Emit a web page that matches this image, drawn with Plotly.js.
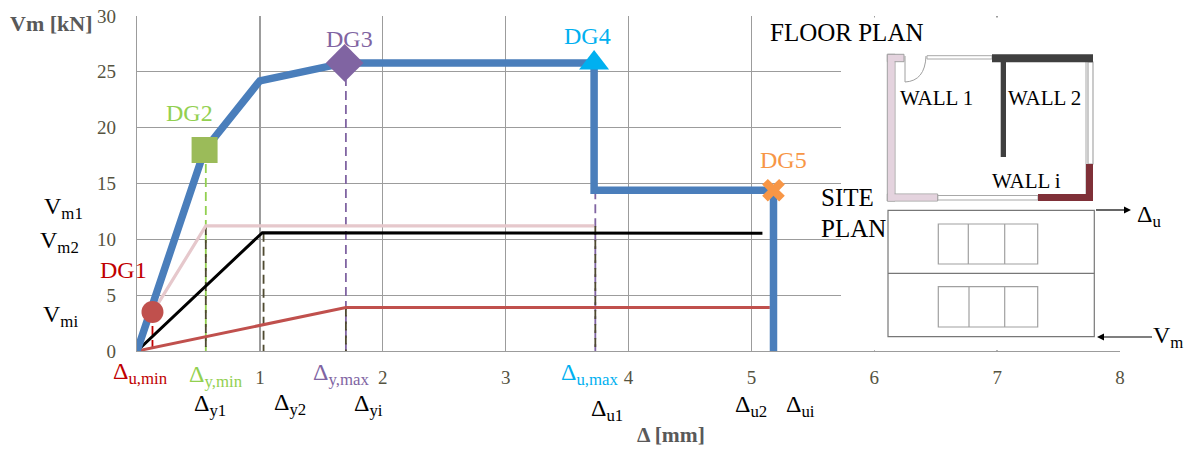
<!DOCTYPE html>
<html>
<head>
<meta charset="utf-8">
<script src="https://cdn.plot.ly/plotly-3.0.1.min.js"></script>
<style>html,body{margin:0;padding:0;background:#fff}#c{width:1193px;height:455px}</style>
</head>
<body>
<div id="c"></div>
<script>
// ---- chart data ----
const curveX = [0, 0.55, 1.0, 1.69, 3.72, 3.72, 5.18, 5.18];
const curveY = [0, 18.0, 24.2, 25.8, 25.8, 14.4, 14.4, 0];
const wall1X = [0.13, 0.56, 3.72];
const wall1Y = [3.5, 11.2, 11.2];
const wall2X = [0, 1.02, 5.09];
const wall2Y = [0, 10.6, 10.55];
const wallIX = [0, 1.7, 5.15];
const wallIY = [0, 3.9, 3.9];
const dgNames = ['DG1', 'DG2', 'DG3', 'DG4', 'DG5'];
const dgX = [0.126, 0.55, 1.69, 3.72, 5.18];
const dgY = [3.5, 18.0, 25.8, 25.8, 14.4];
const dgColors = ['#c0504d', '#9bbb59', '#8064a2', '#00b0f0', '#f79646'];
const dgSymbols = ['circle', 'square', 'diamond', 'triangle-up', 'x'];
const dgSizes = [22, 26, 29, 26, 20];
const dropX = [0.126, 0.56, 0.56, 1.03, 1.7, 1.7, 3.73, 3.73];
const dropY = [3.5, 18.0, 11.2, 10.6, 25.8, 3.9, 14.4, 11.2];
const dropColors = ['#c00000', '#92d050', '#4f4a30', '#4f4a30', '#8064a2', '#4f4a30', '#8064a2', '#4f4a30'];
const xTicks = [1, 2, 3, 4, 5, 6, 7, 8];
const yTicks = [0, 5, 10, 15, 20, 25, 30];

// ---- page geometry helpers (plot area in window pixels) ----
const L = 137, R = 1120, T = 16, B = 351;
const px = v => (v - L) / (R - L);
const py = v => (B - v) / (B - T);

const SERIF = '"Liberation Serif", serif';

const traces = [];
dropX.forEach((x, i) => traces.push({
  x: [x, x], y: [dropY[i], 0], mode: 'lines', showlegend: false, hoverinfo: 'skip',
  line: {color: dropColors[i], width: 1.8, dash: '9px,5px'}
}));
traces.push({x: wall1X, y: wall1Y, mode: 'lines', showlegend: false, line: {color: '#e6c8cc', width: 3.2}});
traces.push({x: wall2X, y: wall2Y, mode: 'lines', showlegend: false, line: {color: '#000', width: 3}});
traces.push({x: wallIX, y: wallIY, mode: 'lines', showlegend: false, line: {color: '#c0504d', width: 3}});
traces.push({x: curveX, y: curveY, mode: 'lines', showlegend: false, cliponaxis: false, line: {color: '#4a7ebb', width: 7.5}});
traces.push({
  x: dgX, y: dgY, text: dgNames, mode: 'markers', showlegend: false, cliponaxis: false,
  marker: {color: dgColors, symbol: dgSymbols, size: dgSizes, opacity: 1, line: {width: 0}}
});

// ---- text labels: [text, centre x px, centre y px, size, colour, bold] ----
const labels = [
  ['Vm [kN]', 51, 23.5, 22, '#595959', true],
  ['Δ [mm]', 671, 435, 21.5, '#595959', true],
  ['DG1', 123, 270, 24, '#c00000'],
  ['DG2', 189, 113, 24, '#92d050'],
  ['DG3', 349, 39, 24, '#8064a2'],
  ['DG4', 587, 36, 24, '#00b0f0'],
  ['DG5', 783, 160, 24, '#f79646'],
  ['V<sub>m1</sub>', 63, 208, 24, '#000'],
  ['V<sub>m2</sub>', 59, 242, 24, '#000'],
  ['V<sub>mi</sub>', 60, 316, 24, '#000'],
  ['Δ<sub>u,min</sub>', 140, 373, 24, '#c00000'],
  ['Δ<sub>y,min</sub>', 216, 376, 24, '#92d050'],
  ['Δ<sub>y,max</sub>', 341, 374, 24, '#8064a2'],
  ['Δ<sub>u,max</sub>', 590, 374, 24, '#00b0f0'],
  ['Δ<sub>y1</sub>', 210, 405, 24, '#000'],
  ['Δ<sub>y2</sub>', 290, 404, 24, '#000'],
  ['Δ<sub>yi</sub>', 368, 405, 24, '#000'],
  ['Δ<sub>u1</sub>', 607, 410, 24, '#000'],
  ['Δ<sub>u2</sub>', 751, 406, 24, '#000'],
  ['Δ<sub>ui</sub>', 800, 406, 24, '#000'],
  ['FLOOR PLAN', 847, 32, 25, '#000'],
  ['SITE', 847, 197, 25, '#000'],
  ['PLAN', 853, 228, 25, '#000'],
  ['WALL 1', 936, 98, 21, '#000'],
  ['WALL 2', 1044, 98, 21, '#000'],
  ['WALL i', 1026, 181, 21, '#000'],
  ['Δ<sub>u</sub>', 1149, 216, 24, '#000'],
  ['V<sub>m</sub>', 1168, 337, 24, '#000']
];
const annotations = labels.map(l => ({
  text: l[5] ? '<b>' + l[0] + '</b>' : l[0],
  xref: 'paper', yref: 'paper', x: px(l[1]), y: py(l[2]),
  xanchor: 'center', yanchor: 'middle', showarrow: false,
  font: {family: SERIF, size: l[3], color: l[4]}
}));

// ---- inset drawing ----
const rect = (x0, y0, x1, y1, fill, stroke, w) => ({
  type: 'rect', xref: 'paper', yref: 'paper', layer: 'above',
  x0: px(x0), x1: px(x1), y0: py(y0), y1: py(y1),
  fillcolor: fill, line: {color: stroke || fill, width: stroke ? (w || 1) : 0}
});
const seg = (x0, y0, x1, y1, c, w) => ({
  type: 'line', xref: 'paper', yref: 'paper', layer: 'above',
  x0: px(x0), x1: px(x1), y0: py(y0), y1: py(y1), line: {color: c, width: w}
});
const path = (pts, fill, stroke, w) => ({
  type: 'path', xref: 'paper', yref: 'paper', layer: 'above', path: pts,
  fillcolor: fill, line: {color: stroke || fill, width: w || 0}
});
const tri = (a, b, c) => 'M' + px(a[0]) + ' ' + py(a[1]) + ' L' + px(b[0]) + ' ' + py(b[1]) + ' L' + px(c[0]) + ' ' + py(c[1]) + ' Z';

const PINK = '#e4d3de', DARK = '#3f3f3f', MAROON = '#7f3038';
const shapes = [
  rect(841, 17.5, 1126, 350.2, '#ffffff'),
  // windows
  rect(927, 55.7, 992, 59, '#ffffff', '#a8a8a8', 1),
  rect(1088, 62, 1093, 164, '#ffffff', '#a8a8a8', 1.2),
  seg(1086, 62, 1086, 194, '#a8a8a8', 1),
  rect(937.7, 195.5, 1038, 200, '#ffffff', '#a8a8a8', 1),
  // wall 1
  rect(887.3, 54.3, 895, 201, PINK, '#a0a0a0', 1),
  rect(887.3, 54.3, 904, 61.7, PINK, '#a0a0a0', 1),
  rect(887.3, 194, 937.7, 201, PINK, '#a0a0a0', 1),
  rect(888, 55, 894.5, 200.5, PINK),
  rect(888, 194.5, 937, 200.5, PINK),
  // wall 2
  rect(992, 54.3, 1093, 62.3, DARK),
  rect(1000.7, 62, 1006, 157, DARK),
  // wall i
  rect(1086, 164, 1093, 201, MAROON),
  rect(1038, 194, 1093, 201, MAROON),
  // door
  seg(905, 56, 905, 82, '#a0a0a0', 1),
  path('M' + px(905) + ' ' + py(82) + ' Q' + px(925) + ' ' + py(81) + ' ' + px(926) + ' ' + py(56), 'rgba(0,0,0,0)', '#a0a0a0', 1),
  // site plan
  rect(888, 210.3, 1094.3, 336.7, '#ffffff', '#777777', 1.2),
  seg(888, 273.3, 1094.3, 273.3, '#777777', 1.2),
  rect(938.3, 224, 1037.7, 264, '#ffffff', '#a0a0a0', 1.2),
  seg(968.3, 224, 968.3, 264, '#a0a0a0', 1.2),
  seg(1004.7, 224, 1004.7, 264, '#a0a0a0', 1.2),
  rect(938.3, 286.7, 1037.7, 327, '#ffffff', '#a0a0a0', 1.2),
  seg(969, 286.7, 969, 327, '#a0a0a0', 1.2),
  seg(1004.7, 286.7, 1004.7, 327, '#a0a0a0', 1.2),
  // load arrows
  seg(1096, 210, 1125, 210, '#000', 1.2),
  path(tri([1131, 210], [1124, 206.5], [1124, 213.5]), '#000'),
  seg(1104, 337, 1152, 337, '#000', 1.2),
  path(tri([1097, 337], [1104, 333.5], [1104, 340.5]), '#000')
];

const axisCommon = {
  showgrid: true, gridcolor: '#9c9c9c', gridwidth: 1.3,
  zeroline: false, showline: true, linecolor: '#9c9c9c', linewidth: 1.3,
  ticks: '', tickfont: {family: SERIF, size: 19, color: '#55533f'}
};
const layout = {
  width: 1193, height: 455, autosize: false,
  margin: {l: L, r: 1193 - R, t: T, b: 455 - B, pad: 0},
  paper_bgcolor: '#fff', plot_bgcolor: '#fff', showlegend: false,
  xaxis: Object.assign({}, axisCommon, {
    range: [0, 8], tickmode: 'array', tickvals: xTicks, ticktext: xTicks.map(String), ticklabelstandoff: 9
  }),
  yaxis: Object.assign({}, axisCommon, {
    range: [0, 30], tickmode: 'array', tickvals: yTicks, ticktext: yTicks.map(String), ticklabelstandoff: 16
  }),
  shapes: shapes,
  annotations: annotations
};
Plotly.newPlot('c', traces, layout, {displayModeBar: false, staticPlot: true});
</script>
</body>
</html>
